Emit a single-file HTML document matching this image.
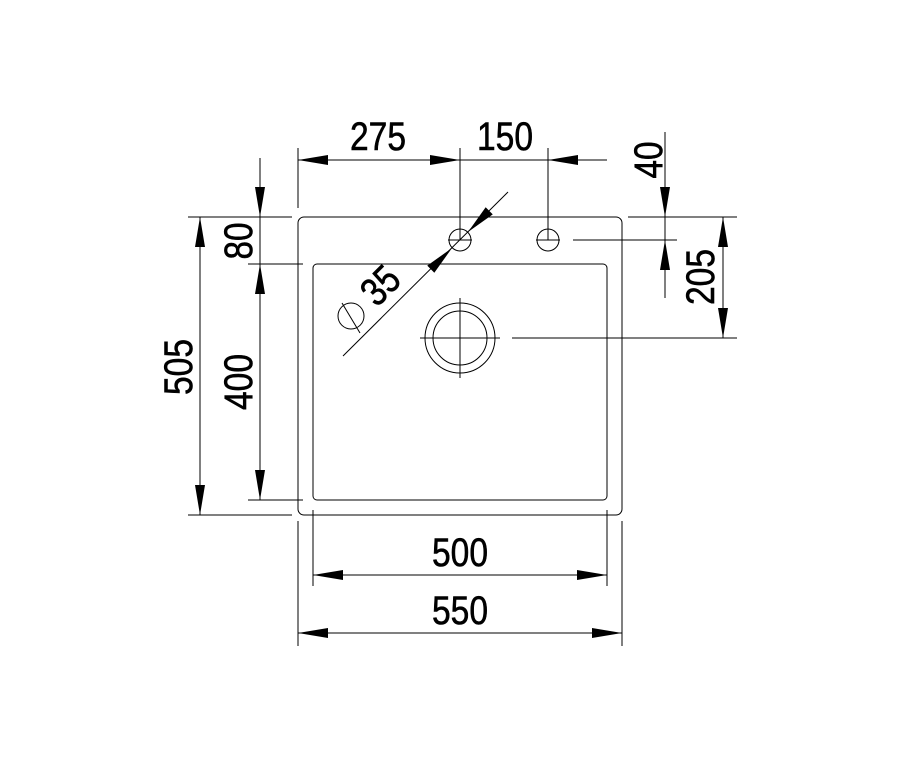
<!DOCTYPE html>
<html><head><meta charset="utf-8"><style>html,body{margin:0;padding:0;background:#fff}</style></head>
<body>
<svg width="898" height="768" viewBox="0 0 898 768" xmlns="http://www.w3.org/2000/svg">
<g fill="none" stroke="#000" stroke-width="1">
<rect x="298" y="217" width="324" height="298" rx="6"/>
<rect x="313" y="264" width="294" height="236" rx="4"/>
<circle cx="460" cy="240" r="11"/><line x1="448" y1="240" x2="472" y2="240"/>
<circle cx="548" cy="240" r="11"/><line x1="536" y1="240" x2="560" y2="240"/>
<line x1="573" y1="240" x2="677" y2="240"/>
<circle cx="460" cy="338" r="35"/><circle cx="460" cy="338" r="27"/>
<line x1="460" y1="298" x2="460" y2="378"/><line x1="420" y1="338" x2="500" y2="338"/>
<line x1="512" y1="338" x2="737" y2="338"/>
<circle cx="351" cy="316" r="13"/><line x1="342" y1="303" x2="360" y2="333"/>
<line x1="343" y1="356" x2="508" y2="192"/>
<line x1="298" y1="148" x2="298" y2="208"/>
<line x1="460" y1="148" x2="460" y2="240"/>
<line x1="548" y1="148" x2="548" y2="240"/>
<line x1="298" y1="160" x2="607" y2="160"/>
<line x1="665" y1="132" x2="665" y2="298"/>
<line x1="628" y1="217" x2="737" y2="217"/>
<line x1="723" y1="217" x2="723" y2="338"/>
<line x1="260" y1="158" x2="260" y2="500"/>
<line x1="248" y1="217" x2="292" y2="217"/>
<line x1="248" y1="264" x2="303" y2="264"/>
<line x1="248" y1="500" x2="303" y2="500"/>
<line x1="200" y1="217" x2="200" y2="515"/>
<line x1="188" y1="217" x2="292" y2="217"/>
<line x1="188" y1="515" x2="292" y2="515"/>
<line x1="313" y1="510" x2="313" y2="586"/>
<line x1="607" y1="510" x2="607" y2="586"/>
<line x1="313" y1="575" x2="607" y2="575"/>
<line x1="298" y1="521" x2="298" y2="646"/>
<line x1="622" y1="521" x2="622" y2="646"/>
<line x1="298" y1="633" x2="622" y2="633"/>
</g>
<g fill="#000">
<path d="M298,160 L328,155 L328,165Z"/>
<path d="M460,160 L430,155 L430,165Z"/>
<path d="M548,160 L578,155 L578,165Z"/>
<path d="M313,575 L343,570 L343,580Z"/>
<path d="M607,575 L577,570 L577,580Z"/>
<path d="M298,633 L328,628 L328,638Z"/>
<path d="M622,633 L592,628 L592,638Z"/>
<path d="M665,217 L660,187 L670,187Z"/>
<path d="M665,240 L660,270 L670,270Z"/>
<path d="M723,217 L718,247 L728,247Z"/>
<path d="M723,338 L718,308 L728,308Z"/>
<path d="M260,217 L255,187 L265,187Z"/>
<path d="M260,264 L255,294 L265,294Z"/>
<path d="M260,500 L255,470 L265,470Z"/>
<path d="M200,217 L195,247 L205,247Z"/>
<path d="M200,515 L195,485 L205,485Z"/>
<g transform="translate(452,248) rotate(-45)"><path d="M0,0 L-30,-5 L-30,5Z"/></g>
<g transform="translate(468,232) rotate(135)"><path d="M0,0 L-30,-5 L-30,5Z"/></g>
</g>
<g font-family="Liberation Sans, sans-serif" font-size="40" fill="#000" stroke="#000" stroke-width="0.6" text-anchor="middle">
<text x="378" y="150" textLength="56" lengthAdjust="spacingAndGlyphs">275</text>
<text x="505" y="150" textLength="56" lengthAdjust="spacingAndGlyphs">150</text>
<text x="460" y="566" textLength="56" lengthAdjust="spacingAndGlyphs">500</text>
<text x="460" y="624" textLength="56" lengthAdjust="spacingAndGlyphs">550</text>
<text transform="translate(662,160) rotate(-90)" textLength="37" lengthAdjust="spacingAndGlyphs">40</text>
<text transform="translate(714,277) rotate(-90)" textLength="56" lengthAdjust="spacingAndGlyphs">205</text>
<text transform="translate(252,241) rotate(-90)" textLength="37" lengthAdjust="spacingAndGlyphs">80</text>
<text transform="translate(252,382) rotate(-90)" textLength="56" lengthAdjust="spacingAndGlyphs">400</text>
<text transform="translate(192,367) rotate(-90)" textLength="56" lengthAdjust="spacingAndGlyphs">505</text>
<text transform="translate(390,295) rotate(-45)" textLength="37" lengthAdjust="spacingAndGlyphs">35</text>
</g>
</svg>
</body></html>
